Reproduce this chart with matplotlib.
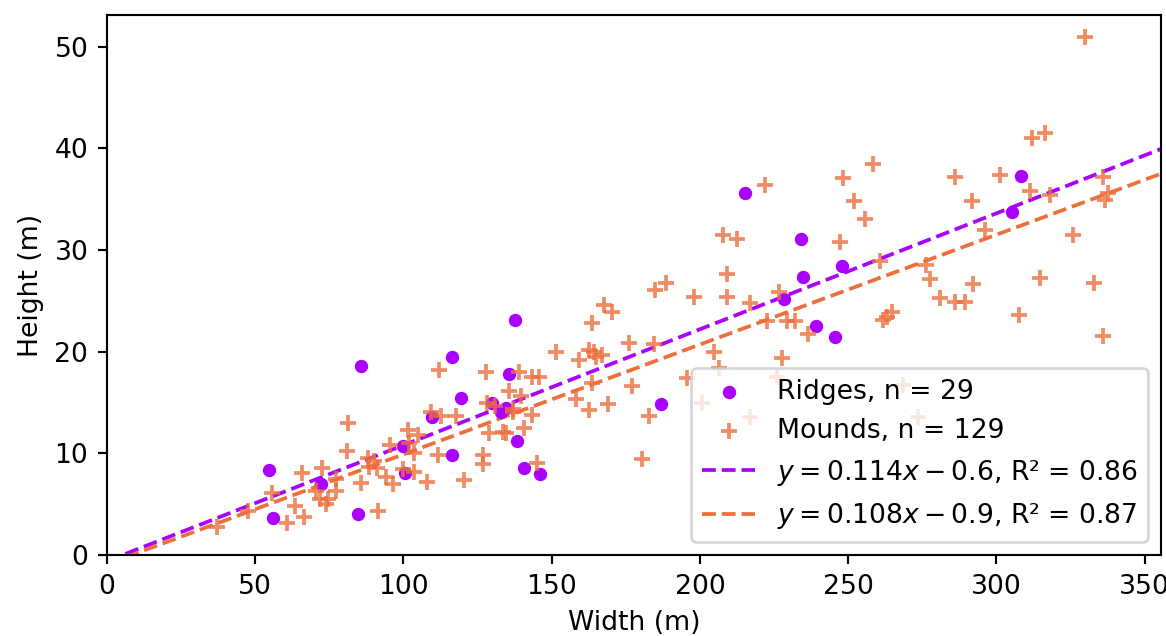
import numpy as np
import matplotlib
matplotlib.use("Agg")
import matplotlib.pyplot as plt

# Ridges (width m, height m)
ridge_w = [54.5, 55.9, 72.3, 85.7, 84.8, 116.5, 119.5, 109.7, 100.0, 100.6,
           116.5, 137.6, 135.6, 133.0, 138.2, 140.7, 146.0, 186.7, 215.3, 234.2,
           234.6, 248.0, 228.2, 239.2, 245.6, 308.4, 305.3, 130.0, 134.5]
ridge_h = [8.4, 3.6, 7.0, 18.6, 4.0, 19.5, 15.4, 13.6, 10.7, 8.1,
           9.8, 23.1, 17.8, 14.1, 11.2, 8.6, 8.0, 14.8, 35.6, 31.1,
           27.3, 28.4, 25.2, 22.5, 21.4, 37.3, 33.7, 14.9, 14.5]

# Mounds (width m, height m)
mound_w = [37.0, 47.5, 55.5, 60.8, 63.4, 65.8, 66.4, 70.5, 71.8, 73.9,
           72.5, 77.3, 77.2, 81.2, 80.8, 85.7, 88.0, 88.5, 91.2, 91.3,
           94.1, 96.4, 95.3, 99.7, 101.4, 103.7, 103.7, 104.8, 108.1, 109.3,
           111.5, 112.1, 112.7, 117.7, 120.5, 126.7, 126.7, 128.0, 128.3, 128.9,
           133.4, 134.5, 135.6, 136.8, 139.6, 139.0, 140.7, 143.5, 143.5, 145.7,
           145.2, 151.4, 158.1, 159.2, 162.6, 164.3, 167.0, 162.6, 163.7, 163.7,
           167.6, 170.4, 169.1, 176.0, 177.2, 180.5, 182.8, 184.4, 185.0, 188.4,
           195.5, 197.9, 200.7, 204.6, 206.3, 207.7, 212.5, 209.1, 209.1, 217.0,
           217.0, 222.0, 222.6, 226.5, 226.0, 227.6, 229.3, 232.1, 236.5, 247.3,
           248.4, 251.8, 255.7, 258.5, 260.7, 261.9, 264.7, 268.5, 273.6, 276.4,
           277.6, 280.9, 286.0, 289.3, 292.2, 286.0, 291.6, 296.1, 301.1, 307.5,
           311.2, 312.1, 316.3, 314.8, 318.0, 325.8, 329.8, 332.9, 335.9, 337.6,
           336.5, 335.9, 74.5, 90.0, 102.0, 131.0, 137.0, 165.0, 263.0]
mound_h = [2.8, 4.3, 6.1, 3.1, 4.8, 8.1, 3.7, 6.3, 5.5, 5.0,
           8.6, 7.5, 6.3, 13.0, 10.2, 7.1, 9.5, 8.7, 8.6, 4.3,
           7.7, 7.0, 10.8, 8.5, 12.3, 10.0, 8.2, 11.8, 7.2, 14.1,
           9.8, 18.2, 13.7, 13.7, 7.4, 9.8, 8.9, 18.0, 14.9, 12.0,
           12.1, 12.0, 16.1, 14.1, 15.6, 18.0, 12.5, 13.8, 17.5, 17.5,
           9.0, 20.0, 15.3, 19.2, 20.2, 20.0, 19.7, 14.3, 16.9, 22.8,
           24.6, 23.9, 14.8, 20.8, 16.6, 9.4, 13.7, 20.7, 26.1, 26.7,
           17.4, 25.4, 14.9, 20.0, 18.4, 31.5, 31.1, 27.6, 25.4, 24.8,
           13.6, 36.4, 23.0, 25.9, 17.5, 19.4, 23.0, 23.0, 21.7, 30.8,
           37.1, 34.8, 33.0, 38.4, 28.9, 23.1, 23.9, 16.7, 13.6, 28.5,
           27.1, 25.3, 24.9, 24.9, 26.6, 37.2, 34.8, 32.0, 37.4, 23.6,
           35.8, 41.0, 41.5, 27.2, 35.4, 31.5, 50.9, 26.7, 37.2, 35.6,
           34.9, 21.5, 5.5, 9.2, 11.0, 14.7, 14.4, 19.5, 23.4]

# fitted lines as printed in the legend
ridge_fit = (0.114, -0.6, 0.86)
mound_fit = (0.108, -0.9, 0.87)

purple = '#aa00ff'
orange = '#ec6f3c'

DPI = 192
fig = plt.figure(figsize=(1166 / DPI, 636 / DPI), dpi=DPI)
ax = fig.add_axes([107 / 1166, 81 / 636, 1054 / 1166, 540 / 636])

ax.scatter(ridge_w, ridge_h, s=16, color=purple, marker='o',
           label=f'Ridges, n = {len(ridge_w)}', zorder=3)
ax.scatter(mound_w, mound_h, s=32, color=orange, marker='+', alpha=0.8,
           linewidths=1.4, label=f'Mounds, n = {len(mound_w)}', zorder=3)

xs = np.linspace(0, 360, 200)
ax.plot(xs, ridge_fit[0] * xs + ridge_fit[1], '--', color=purple, lw=1.4,
        label=f'$y = {ridge_fit[0]}x - {abs(ridge_fit[1])}$, R² = {ridge_fit[2]}')
ax.plot(xs, mound_fit[0] * xs + mound_fit[1], '--', color=orange, lw=1.4,
        label=f'$y = {mound_fit[0]}x - {abs(mound_fit[1])}$, R² = {mound_fit[2]}')

ax.set_xlim(0, 355.5)
ax.set_ylim(0, 53.1)
ax.set_xlabel('Width (m)')
ax.set_ylabel('Height (m)')
ax.legend(loc='lower right')

fig.savefig('out.png', dpi=DPI)
